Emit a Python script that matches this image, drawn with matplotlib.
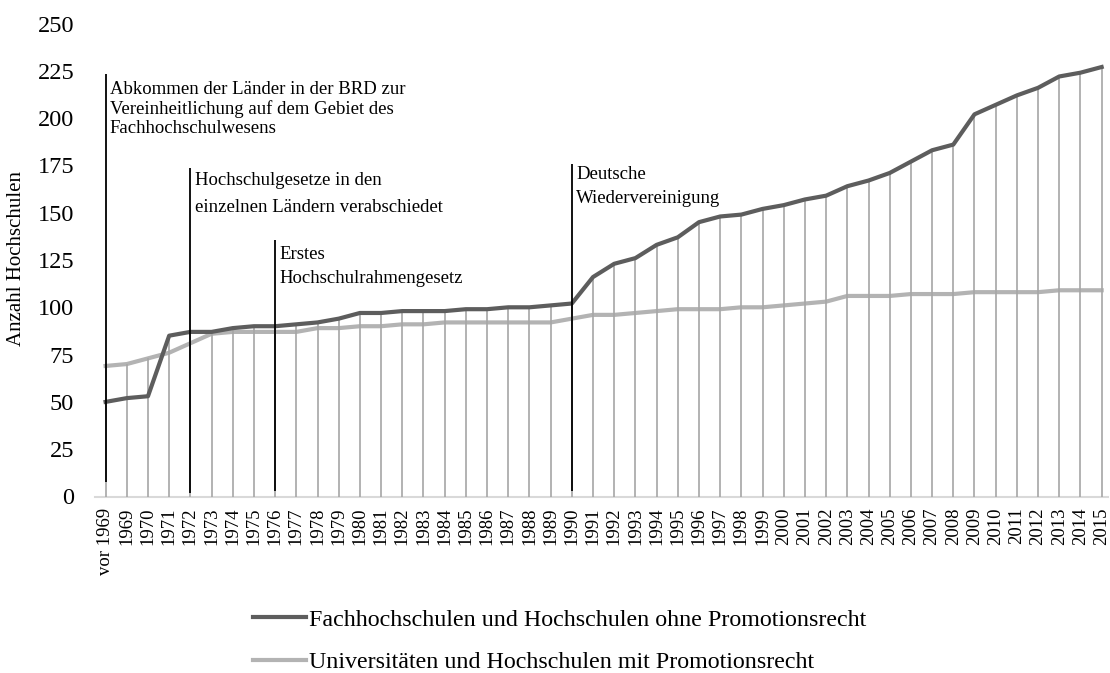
import numpy as np
import matplotlib as mpl
mpl.use("Agg")
import matplotlib.pyplot as plt

plt.rcParams["font.family"] = ["Liberation Serif", "DejaVu Serif"]

# categories: "vor 1969" then every year 1969..2015
categories = ["vor 1969"] + [str(y) for y in range(1969, 2016)]

# Fachhochschulen und Hochschulen ohne Promotionsrecht
fh = [50, 52, 53, 85, 87, 87, 89, 90, 90, 91,
      92, 94, 97, 97, 98, 98, 98, 99, 99, 100,
      100, 101, 102, 116, 123, 126, 133, 137, 145, 148,
      149, 152, 154, 157, 159, 164, 167, 171, 177, 183,
      186, 202, 207, 212, 216, 222, 224, 227]

# Universitaeten und Hochschulen mit Promotionsrecht
uni = [69, 70, 73, 76, 81, 86, 87, 87, 87, 87,
       89, 89, 90, 90, 91, 91, 92, 92, 92, 92,
       92, 92, 94, 96, 96, 97, 98, 99, 99, 99,
       100, 100, 101, 102, 103, 106, 106, 106, 107, 107,
       107, 108, 108, 108, 108, 109, 109, 109]

series_labels = ["Fachhochschulen und Hochschulen ohne Promotionsrecht",
                 "Universitäten und Hochschulen mit Promotionsrecht"]

# event markers: category index, line bottom / top (axis units), text
ann_idx = [0, 4, 8, 22]
ann_bottom = [7.5, 2, 3, 3]
ann_top = [223.5, 173.5, 135.5, 176]
ann_text = ["Abkommen der Länder in der BRD zur\nVereinheitlichung auf dem Gebiet des\nFachhochschulwesens",
            "Hochschulgesetze in den\neinzelnen Ländern verabschiedet",
            "Erstes\nHochschulrahmengesetz",
            "Deutsche\nWiedervereinigung"]
ann_spacing = [1.17, 1.75, 1.55, 1.55]
ann_dy = [-5, -3, -4.3, -1.5]   # points, nudges text below line top

W, H = 1110, 673
fig = plt.figure(figsize=(W / 100, H / 100), dpi=100)
ax = fig.add_axes([95 / W, 1 - 496.5 / H, (1108 - 95) / W, (496.5 - 23.5) / H])

x = np.arange(len(categories))
top = np.maximum(fh, uni)

# drop lines
ax.vlines(x, 0, top, color="#a6a6a6", lw=1.2, zorder=3)
l_uni, = ax.plot(x, uni, color="#b3b3b3", lw=3.0, zorder=2)
l_fh, = ax.plot(x, fh, color="#5d5d5d", lw=3.0, zorder=4)

for i, y0, y1, txt, ls, dy in zip(ann_idx, ann_bottom, ann_top, ann_text,
                                  ann_spacing, ann_dy):
    ax.vlines(i, y0, y1, color="black", lw=1.3, zorder=6)
    ax.annotate(txt, xy=(i, y1), xytext=(3, dy), textcoords="offset points",
                ha="left", va="top", fontsize=13.5, linespacing=ls, zorder=7)

ax.set_xlim(-0.5, 47.3)
ax.set_ylim(0, 250)
ax.set_yticks(range(0, 251, 25))
ax.set_xticks(x)
ax.set_xticklabels(categories, rotation=90, fontsize=13.5)
ax.tick_params(axis="y", length=0, pad=15, labelsize=17.5)
ax.tick_params(axis="x", length=0, pad=8)

for s in ["top", "right", "left"]:
    ax.spines[s].set_visible(False)
ax.spines["bottom"].set_color("#d9d9d9")
ax.spines["bottom"].set_linewidth(1.5)

fig.text(17 / W, 1 - 259 / H, "Anzahl Hochschulen", rotation=90,
         ha="center", va="center", fontsize=15)

fig.legend([l_fh, l_uni], series_labels, loc="upper left",
           bbox_to_anchor=(253 / W, 1 - 609 / H), frameon=False,
           fontsize=17.3, handlelength=2.2, handletextpad=0.15,
           labelspacing=0.85, borderpad=0, borderaxespad=0)

fig.savefig("out.png", dpi=100)
plt.close(fig)
